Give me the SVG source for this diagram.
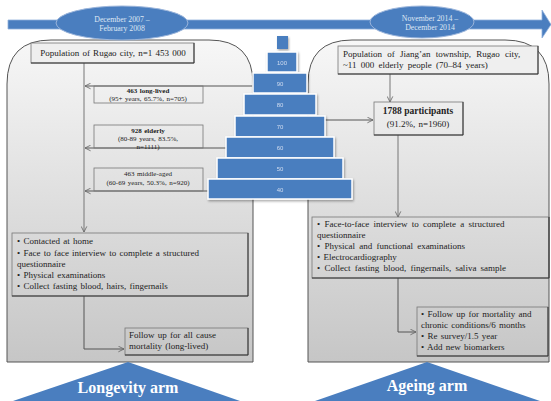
<svg xmlns="http://www.w3.org/2000/svg" width="551" height="401" viewBox="0 0 551 401">
<defs>
<linearGradient id="panelG" x1="0" y1="0" x2="0" y2="1">
<stop offset="0" stop-color="#f7f7f7"/>
<stop offset="1" stop-color="#c6c6c6"/>
</linearGradient>
<marker id="ah" viewBox="0 0 10 10" refX="9" refY="5" markerWidth="7" markerHeight="7" orient="auto" markerUnits="userSpaceOnUse">
<path d="M1,1 L9,5 L1,9" fill="none" stroke="#666" stroke-width="1.2"/>
</marker>
<filter id="sh" x="-10%" y="-10%" width="130%" height="140%">
<feDropShadow dx="1" dy="1.5" stdDeviation="1" flood-color="#000" flood-opacity="0.35"/>
</filter>
</defs>
<style>
.panel{fill:url(#panelG);stroke:#555;stroke-width:1}
.blue{fill:#4a7ebf}
.ell{fill:#4a7ebf;stroke:#9bb5db;stroke-width:1}
.blk{fill:#4a7ebf;stroke:#fff;stroke-width:1.5}
.box{fill:none;stroke:#777;stroke-width:0.8}
.boxf{fill:#efefef;stroke:#777;stroke-width:0.8}
.shd{fill:none;stroke:#333;stroke-width:1}
.t{font-family:"Liberation Serif","Times New Roman",serif;fill:#222}
.s9{font-size:9px;word-spacing:1px}
.s7{font-size:7px;word-spacing:0.8px}
.b{font-weight:bold}
.et{font-family:"Liberation Serif","Times New Roman",serif;font-size:7.8px;fill:#dfe7f4;text-anchor:middle}
.pn{font-family:"Liberation Sans",Arial,sans-serif;font-size:6px;fill:#cfdcf0;text-anchor:middle}
.arm{font-family:"Liberation Serif","Times New Roman",serif;font-size:16px;font-weight:bold;fill:#fff;text-anchor:middle}
.c{fill:none;stroke:#777;stroke-width:1}
.c2{fill:none;stroke:#555;stroke-width:1}
</style>

<!-- timeline -->
<g id="timeline">
<path class="blue" d="M8,20 H542 V10 L551,24.5 L542,38 V29 H8 Z" stroke="#8fb0dc" stroke-width="0.8"/>
</g>

<!-- panels -->
<g id="longevity-panel">
<path class="panel" d="M7,362 V84 Q7,40 51,40 H209 Q253,40 253,84 V362 Z"/>
</g>
<g id="ageing-panel">
<path class="panel" d="M308,362 V84 Q308,40 352,40 H505 Q549,40 549,84 V362 Z"/>
</g>

<!-- date ellipses -->
<g id="date-2007">
<ellipse class="ell" cx="122" cy="23" rx="66" ry="17"/>
<text class="et" x="122" y="22">December 2007 –</text>
<text class="et" x="122" y="31">February 2008</text>
</g>
<g id="date-2014">
<ellipse class="ell" cx="422" cy="22" rx="52" ry="16"/>
<text class="et" x="430" y="21">November 2014 –</text>
<text class="et" x="430" y="30">December 2014</text>
</g>

<!-- connectors -->
<g id="connectors">
<line class="c" x1="84" y1="63" x2="84" y2="232" marker-end="url(#ah)"/>
<line class="c2" x1="253" y1="86" x2="85" y2="86" marker-end="url(#ah)"/>
<line class="c2" x1="226" y1="148" x2="85" y2="148" marker-end="url(#ah)"/>
<line class="c2" x1="208" y1="191" x2="85" y2="191" marker-end="url(#ah)"/>
<polyline class="c2" points="84,296 84,349 124,349" marker-end="url(#ah)"/>
<line class="c" x1="390" y1="74" x2="390" y2="102" marker-end="url(#ah)"/>
<line class="c2" x1="325" y1="120" x2="373" y2="120" marker-end="url(#ah)"/>
<line class="c" x1="398" y1="135" x2="398" y2="217" marker-end="url(#ah)"/>
<polyline class="c2" points="398,278 398,332 416,332" marker-end="url(#ah)"/>
</g>

<!-- pyramid -->
<g id="pyramid" filter="url(#sh)">
<rect class="blue" x="277" y="36" width="11" height="13"/>
<rect class="blk" x="267" y="52" width="30" height="20"/>
<rect class="blk" x="253" y="73" width="54" height="20"/>
<rect class="blk" x="244" y="94" width="72" height="21"/>
<rect class="blk" x="235" y="116" width="90" height="21"/>
<rect class="blk" x="226" y="137" width="108" height="21"/>
<rect class="blk" x="217" y="158" width="126" height="21"/>
<rect class="blk" x="208" y="179" width="144" height="20"/>
<text class="pn" x="282" y="65">100</text>
<text class="pn" x="280" y="86">90</text>
<text class="pn" x="280" y="107">80</text>
<text class="pn" x="280" y="129">70</text>
<text class="pn" x="280" y="150">60</text>
<text class="pn" x="280" y="171">50</text>
<text class="pn" x="280" y="192">40</text>
</g>

<!-- left nodes -->
<g id="rugao-population">
<rect class="boxf" x="31" y="43" width="163" height="20"/>
<polyline class="shd" points="194,43 194,63 31,63"/>
<text class="t s9" x="113" y="56" text-anchor="middle">Population  of Rugao  city,  n=1 453 000</text>
</g>
<g id="long-lived">
<rect class="box" x="94" y="86" width="109" height="17"/>
<text class="t s7 b" x="148" y="93" text-anchor="middle">463 long-lived</text>
<text class="t s7" x="148" y="101" text-anchor="middle">(95+  years, 65.7%,  n=705)</text>
</g>
<g id="elderly">
<rect class="box" x="94" y="125" width="109" height="23"/>
<text class="t s7 b" x="148" y="133" text-anchor="middle">928 elderly</text>
<text class="t s7" x="148" y="141" text-anchor="middle">(80-89  years, 83.5%,</text>
<text class="t s7" x="148" y="149" text-anchor="middle">n=1111)</text>
</g>
<g id="middle-aged">
<rect class="box" x="94" y="168" width="109" height="23"/>
<text class="t s7" x="148" y="176" text-anchor="middle">463 middle-aged</text>
<text class="t s7" x="148" y="185" text-anchor="middle">(60-69  years, 50.3%,  n=920)</text>
</g>
<g id="longevity-baseline">
<rect class="box" x="12" y="233" width="236" height="63"/>
<polyline class="shd" points="248,233 248,296 12,296"/>
<text class="t s9" x="17" y="244">• Contacted at home</text>
<text class="t s9" x="17" y="256">• Face to face interview  to complete  a structured</text>
<text class="t s9" x="17" y="267">questionnaire</text>
<text class="t s9" x="17" y="278">• Physical  examinations</text>
<text class="t s9" x="17" y="289">• Collect fasting  blood, hairs, fingernails</text>
</g>
<g id="longevity-followup">
<rect class="box" x="125" y="328" width="123" height="27"/>
<polyline class="shd" points="248,328 248,355 125,355"/>
<text class="t s9" x="129" y="338">Follow  up for all cause</text>
<text class="t s9" x="129" y="349">mortality  (long-lived)</text>
</g>

<!-- right nodes -->
<g id="jiangan-population">
<rect class="boxf" x="338" y="46" width="200" height="28"/>
<polyline class="shd" points="538,46 538,74 338,74"/>
<text class="t s9" x="343" y="57" style="word-spacing:3px">Population  of  Jiang’an  township,  Rugao  city,</text>
<text class="t s9" x="343" y="68" style="word-spacing:2px">~11 000  elderly  people  (70–84  years)</text>
</g>
<g id="participants">
<rect class="box" x="374" y="102" width="89" height="33"/>
<polyline class="shd" points="463,102 463,135 374,135"/>
<text class="t b" x="418" y="114" font-size="9.5px" text-anchor="middle">1788 participants</text>
<text class="t s9" x="418" y="127" text-anchor="middle">(91.2%, n=1960)</text>
</g>
<g id="ageing-baseline">
<rect class="box" x="312" y="217" width="237" height="61"/>
<polyline class="shd" points="549,217 549,278 312,278"/>
<text class="t s9" x="317" y="227" style="word-spacing:2px">• Face-to-face interview  to complete  a structured</text>
<text class="t s9" x="317" y="238">questionnaire</text>
<text class="t s9" x="317" y="249" style="word-spacing:2px">• Physical  and functional  examinations</text>
<text class="t s9" x="317" y="260">• Electrocardiography</text>
<text class="t s9" x="317" y="271" style="word-spacing:2px">• Collect fasting  blood, fingernails,  saliva  sample</text>
</g>
<g id="ageing-followup">
<rect class="box" x="417" y="307" width="131" height="49"/>
<polyline class="shd" points="548,307 548,356 417,356"/>
<text class="t s9" x="421" y="317">• Follow up for mortality  and</text>
<text class="t s9" x="421" y="328">chronic  conditions/6  months</text>
<text class="t s9" x="421" y="339">• Re survey/1.5  year</text>
<text class="t s9" x="421" y="350">• Add new biomarkers</text>
</g>

<!-- arm labels -->
<g id="longevity-arm">
<polygon class="blue" points="128,362 240,401 13,401"/>
<text class="arm" x="128" y="393">Longevity arm</text>
</g>
<g id="ageing-arm">
<polygon class="blue" points="427,362 540,401 315,401"/>
<text class="arm" x="427" y="391">Ageing arm</text>
</g>
</svg>
